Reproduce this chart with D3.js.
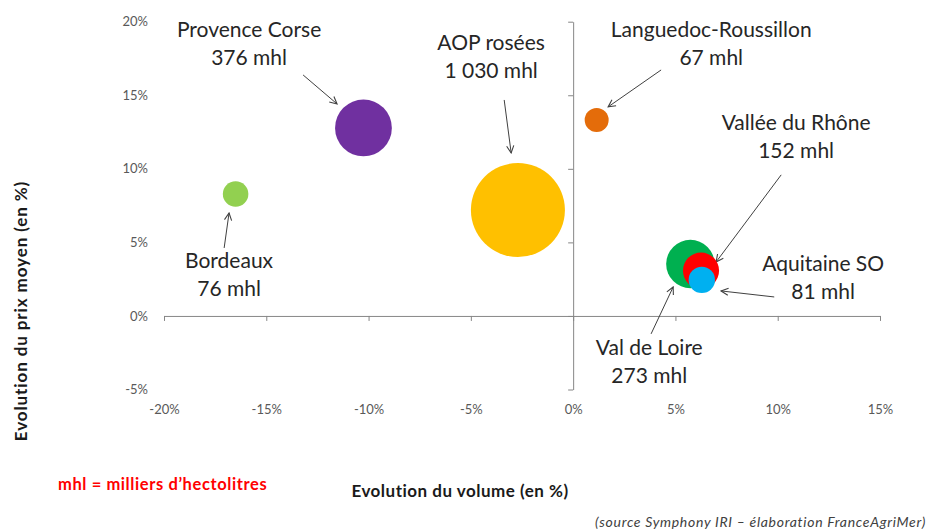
<!DOCTYPE html>
<html>
<head>
<meta charset="utf-8">
<script src="https://cdn.jsdelivr.net/npm/d3@7"></script>
<style>
  body { margin: 0; background: #fff; }
  svg text { font-family: Lato, "Open Sans", sans-serif; }
</style>
</head>
<body>
<div id="chart"></div>
<script>
// regions, in drawing order (small bubbles of the cluster end on top)
const regions = ["Bordeaux", "Provence Corse", "AOP rosées", "Languedoc-Roussillon", "Val de Loire", "Vallée du Rhône", "Aquitaine SO"];
// evolution du volume (%)
const volumeChange = [-16.5, -10.25, -2.7, 1.15, 5.73, 6.25, 6.29];
// evolution du prix moyen (%)
const priceChange = [8.29, 12.78, 7.2, 13.32, 3.53, 3.08, 2.45];
// volumes in milliers d'hectolitres
const volumes = [76, 376, 1030, 67, 273, 152, 81];

const xTicks = [-20, -15, -10, -5, 0, 5, 10, 15];
const yTicks = [-5, 0, 5, 10, 15, 20];

const palette = ["#92D050", "#7030A0", "#FFC000", "#E46C0A", "#00B050", "#FF0000", "#00B0F0"];

// callouts, in data units: label centre / first baseline, arrow from -> to
const labelAt = [[-16.82, 3.26], [-15.84, 18.97], [-4.01, 18.08], [6.75, 18.97], [3.72, -2.65], [10.9, 12.64], [12.22, 3.06]];
const arrowFrom = [[-17.06, 4.62], [-13.2, 16.38], [-3.37, 14.68], [4.3, 16.72], [3.81, -1.22], [10.17, 9.59], [9.83, 1.29]];
const arrowTo = [[-16.82, 7.0], [-11.54, 14.41], [-3.03, 11.08], [1.71, 14.21], [4.89, 1.97], [6.99, 3.67], [7.23, 1.7]];

const width = 930, height = 532;

const svg = d3.select("#chart").append("svg")
  .attr("width", width)
  .attr("height", height);

const x = d3.scaleLinear().domain([-20, 15]).range([164, 880]);
const y = d3.scaleLinear().domain([-5, 20]).range([389.5, 21.7]);
const r = d3.scaleSqrt().domain([0, 1030]).range([0, 47]);

const fr = d3.formatLocale({ decimal: ",", thousands: " ", grouping: [3], currency: ["", " €"] });
const fmtVol = fr.format(",d");

svg.append("defs").append("marker")
  .attr("id", "arrow")
  .attr("viewBox", "0 0 10 10")
  .attr("refX", 9)
  .attr("refY", 5)
  .attr("markerWidth", 9)
  .attr("markerHeight", 9)
  .attr("markerUnits", "userSpaceOnUse")
  .attr("orient", "auto")
  .append("path")
  .attr("d", "M1,1 L9,5 L1,9")
  .attr("fill", "none")
  .attr("stroke", "#404040")
  .attr("stroke-width", 1.2);

// axes crossing at 0
const xAxis = svg.append("g")
  .attr("transform", `translate(0,${y(0)})`)
  .call(d3.axisBottom(x).tickValues(xTicks).tickSize(5).tickSizeOuter(0).tickFormat(d => d + "%"));

const yAxis = svg.append("g")
  .attr("transform", `translate(${x(0)},0)`)
  .call(d3.axisLeft(y).tickValues(yTicks).tickSize(5).tickSizeOuter(0).tickFormat(d => d + "%"));

[xAxis, yAxis].forEach(a => {
  a.select(".domain").attr("stroke", "#868686");
  a.selectAll(".tick line").attr("stroke", "#868686");
  a.selectAll(".tick text")
    .attr("fill", "#595959")
    .style("font-size", "13px")
    .style("font-family", "Lato, sans-serif");
});

// tick labels sit at the low side of the plot, like Excel does
xAxis.selectAll(".tick text").attr("y", y(-5) - y(0) + 15);
yAxis.selectAll(".tick text").attr("x", x(-20) - x(0) - 16);

// arrows
svg.selectAll(".callout")
  .data(regions)
  .join("line")
  .attr("class", "callout")
  .attr("x1", (d, i) => x(arrowFrom[i][0]))
  .attr("y1", (d, i) => y(arrowFrom[i][1]))
  .attr("x2", (d, i) => x(arrowTo[i][0]))
  .attr("y2", (d, i) => y(arrowTo[i][1]))
  .attr("stroke", "#404040")
  .attr("stroke-width", 1)
  .attr("marker-end", "url(#arrow)");

// bubbles
svg.selectAll(".bubble")
  .data(regions)
  .join("circle")
  .attr("class", "bubble")
  .attr("cx", (d, i) => x(volumeChange[i]))
  .attr("cy", (d, i) => y(priceChange[i]))
  .attr("r", (d, i) => r(volumes[i]))
  .attr("fill", (d, i) => palette[i]);

// labels
const labels = svg.selectAll(".label")
  .data(regions)
  .join("text")
  .attr("class", "label")
  .attr("text-anchor", "middle")
  .attr("fill", "#262626")
  .style("font-size", "21px");

labels.append("tspan")
  .attr("x", (d, i) => x(labelAt[i][0]))
  .attr("y", (d, i) => y(labelAt[i][1]))
  .text(d => d);

labels.append("tspan")
  .attr("x", (d, i) => x(labelAt[i][0]))
  .attr("dy", 28.5)
  .text((d, i) => fmtVol(volumes[i]) + " mhl");

// axis titles
svg.append("text")
  .attr("text-anchor", "middle")
  .attr("x", 460)
  .attr("y", 497)
  .attr("fill", "#1a1a1a")
  .style("font-size", "17px")
  .style("letter-spacing", "0.5px")
  .style("font-weight", "bold")
  .text("Evolution du volume (en %)");

svg.append("text")
  .attr("text-anchor", "middle")
  .attr("transform", "translate(27,311) rotate(-90)")
  .attr("fill", "#1a1a1a")
  .style("font-size", "17px")
  .style("letter-spacing", "0.9px")
  .style("font-weight", "bold")
  .text("Evolution du prix moyen (en %)");

svg.append("text")
  .attr("x", 58)
  .attr("y", 490)
  .attr("fill", "#FF0000")
  .style("font-size", "16.5px")
  .style("letter-spacing", "0.6px")
  .style("font-weight", "bold")
  .text("mhl = milliers d\u2019hectolitres");

svg.append("text")
  .attr("text-anchor", "end")
  .attr("x", 926)
  .attr("y", 527)
  .attr("fill", "#404040")
  .style("font-size", "14px")
  .style("letter-spacing", "0.7px")
  .style("font-style", "italic")
  .text("(source Symphony IRI \u2013 \u00e9laboration FranceAgriMer)");
</script>
</body>
</html>
